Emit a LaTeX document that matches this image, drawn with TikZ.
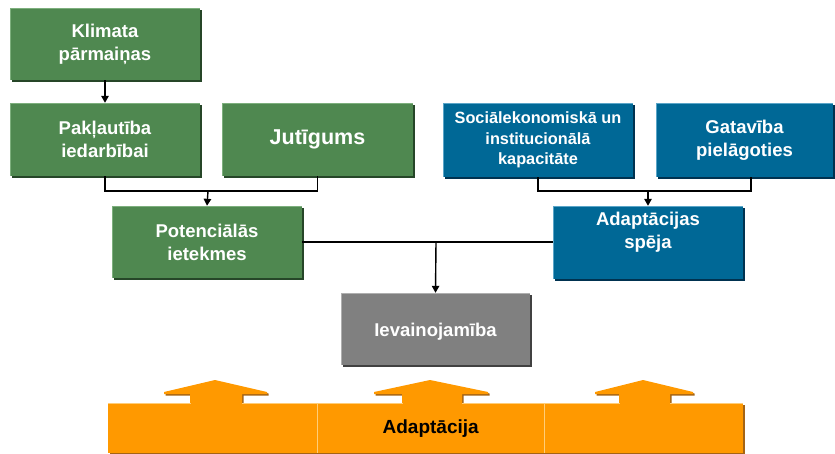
\documentclass[tikz,border=0pt]{standalone}
\usepackage{fontspec}
\setmainfont{Liberation Sans}
\usetikzlibrary{shadows,calc,arrows.meta}
\definecolor{grn}{RGB}{79,136,80}
\definecolor{grnD}{RGB}{38,70,40}
\definecolor{grnL}{RGB}{125,175,125}
\definecolor{blu}{RGB}{0,104,150}
\definecolor{bluD}{RGB}{0,50,80}
\definecolor{bluL}{RGB}{90,165,200}
\definecolor{gry}{RGB}{128,128,128}
\definecolor{gryD}{RGB}{65,65,65}
\definecolor{gryL}{RGB}{175,175,175}
\definecolor{org}{RGB}{255,153,0}
\definecolor{orgD}{RGB}{165,100,20}
\definecolor{orgL}{RGB}{255,205,120}
\begin{document}
\begin{tikzpicture}[x=1pt,y=-1pt,
  boxbase/.style={inner sep=0pt, text=white, align=center,
    font=\bfseries\fontsize{18.5}{23}\selectfont},
  hilite/.style={path picture={\draw[#1,line width=2pt]
      (path picture bounding box.south west) -- (path picture bounding box.north west)
      -- (path picture bounding box.north east);}},
  gbox/.style={boxbase, fill=grn, hilite=grnL,
    general shadow={fill=grnD, shadow xshift=2pt, shadow yshift=-2pt}},
  bbox/.style={boxbase, fill=blu, hilite=bluL,
    general shadow={fill=bluD, shadow xshift=2pt, shadow yshift=-2pt}},
  ybox/.style={boxbase, fill=gry, hilite=gryL,
    general shadow={fill=gryD, shadow xshift=2pt, shadow yshift=-2pt}},
  conn/.style={line width=1.4pt, black},
  arr/.style={conn, -{Triangle[length=7pt,width=7.5pt]}},
  uparrow/.style={fill=org, general shadow={fill=orgD, shadow xshift=1.5pt, shadow yshift=-1.5pt}},
]
\useasboundingbox (0,0) rectangle (835,453);

% green boxes
\node[gbox, minimum width=190pt, minimum height=72pt] (klim) at (105,44) {Klimata\\pārmaiņas};
\node[gbox, minimum width=190pt, minimum height=73pt] (pak) at (105,139.5) {Pakļautība\\iedarbībai};
\node[gbox, minimum width=191pt, minimum height=73pt,
      font=\bfseries\fontsize{21.5}{25}\selectfont] (jut) at (317.5,139.5) {Jutīgums};
\node[gbox, minimum width=190pt, minimum height=72pt] (pot) at (207,242) {Potenciālās\\ietekmes};

% blue boxes
\node[bbox, minimum width=190pt, minimum height=74pt,
      font=\bfseries\fontsize{16.3}{20.5}\selectfont] (soc) at (538,140) {Sociālekonomiskā un\\institucionālā\\kapacitāte};
\node[bbox, minimum width=177pt, minimum height=74pt] (gat) at (744.5,140) {Gatavība\\pielāgoties};
\node[bbox, minimum width=190pt, minimum height=73pt] (adap) at (648,242.5) {};
\node[boxbase] (adaptxt) at (648,232.5) {Adaptācijas\\spēja};

% grey box
\node[ybox, minimum width=189pt, minimum height=72pt] (iev) at (435.5,329) {};
\node[boxbase] (ievtxt) at (435.5,332) {Ievainojamība};

% connectors
\coordinate (j1) at (208,191);
\coordinate (j2) at (648,191);
\coordinate (j3) at (436,242);
\draw[arr] (klim.south) -- (pak.north);
\draw[conn] (pak.south) |- (j1) -| (jut.south);
\draw[arr] (j1) -- (pot.north);
\draw[conn] (soc.south) |- (j2) -| ([xshift=6.5pt]gat.south);
\draw[arr] (j2) -- (adap.north);
\draw[conn] (pot.east) -- (pot.east -| adap.west);
\draw[arr] (j3) -- (iev.north);

% adaptation bar arrows
\path[uparrow] (190,405) -- (190,394) -- (164,394) -- (164,392) -- (215,380) -- (267,392) -- (267,394) -- (242,394) -- (242,405) -- cycle;
\path[uparrow] (402,405) -- (402,394) -- (374,394) -- (374,392) -- (430,380) -- (488,392) -- (488,394) -- (462,394) -- (462,405) -- cycle;
\path[uparrow] (619,405) -- (619,394) -- (595,394) -- (595,392) -- (643,380) -- (693,392) -- (693,394) -- (670,394) -- (670,405) -- cycle;

% bar
\fill[orgD] (110,405) rectangle (745,455);
\node[fill=org, minimum width=209pt, minimum height=50pt, inner sep=0pt, anchor=north west] (bar1) at (108,403) {};
\node[fill=org, minimum width=227pt, minimum height=50pt, inner sep=0pt, anchor=north west,
      font=\bfseries\fontsize{19}{23}\selectfont] (bar2) at (317,403) {Adaptācija};
\node[fill=org, minimum width=199pt, minimum height=50pt, inner sep=0pt, anchor=north west] (bar3) at (544,403) {};
\draw[orgL, line width=1pt] (108,403.5) -- (743,403.5);
\draw[orgL, line width=0.8pt] (bar1.north east) -- (bar1.south east);
\draw[orgL, line width=0.8pt] (bar2.north east) -- (bar2.south east);
% stems over the top highlight
\fill[org] (190.5,402) rectangle (241.5,405);
\fill[org] (402.5,402) rectangle (461.5,405);
\fill[org] (619.5,402) rectangle (669.5,405);
\end{tikzpicture}
\end{document}
